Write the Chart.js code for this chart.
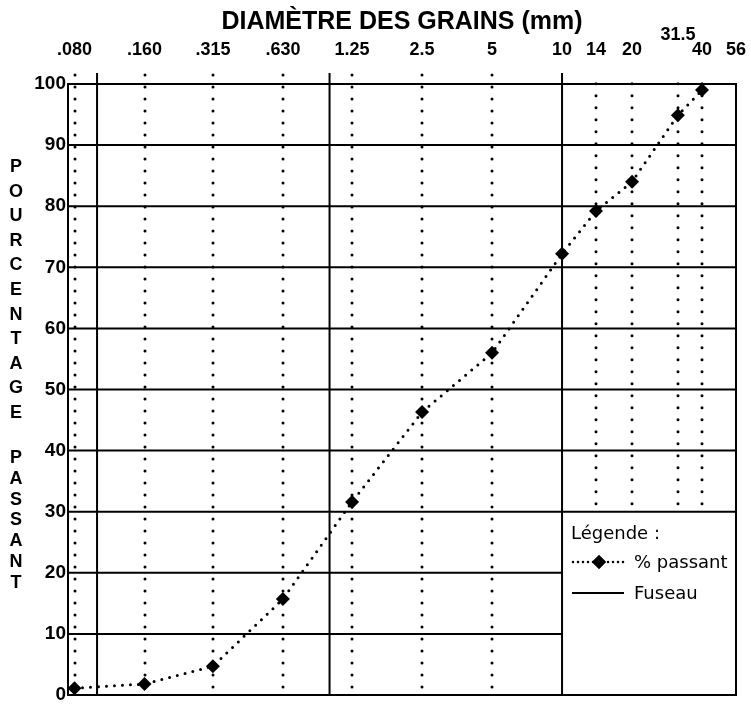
<!DOCTYPE html>
<html>
<head>
<meta charset="utf-8">
<script src="https://cdn.jsdelivr.net/npm/chart.js@4.4.1/dist/chart.umd.min.js"></script>
<style>
  html, body { margin: 0; padding: 0; background: #fff; }
</style>
</head>
<body>
<canvas id="grading" width="751" height="709"></canvas>
<script>
// sieve openings (mm) shown along the top
const sieveSizes = [0.08, 0.16, 0.315, 0.63, 1.25, 2.5, 5, 10, 14, 20, 31.5, 40, 56];
const sieveLabels = ['.080', '.160', '.315', '.630', '1.25', '2.5', '5', '10', '14', '20', '31.5', '40', '56'];

// measured % passing
const passSizes = [0.08, 0.16, 0.315, 0.63, 1.25, 2.5, 5, 10, 14, 20, 31.5, 40];
const percentPassing = [1.1, 1.8, 4.7, 15.7, 31.6, 46.3, 56, 72.2, 79.2, 84, 94.9, 99];

const percentTicks = [0, 10, 20, 30, 40, 50, 60, 70, 80, 90, 100];
const decadeLines = [0.1, 1, 10];
const dottedSizes = sieveSizes.filter(s => s !== 10 && s !== 56);
const sideTitle = ['POURCENTAGE', 'PASSANT'];

const frame = {
  id: 'frame',
  beforeDatasetsDraw(chart) {
    const ctx = chart.ctx;
    const xs = chart.scales.x, ys = chart.scales.y;
    const a = chart.chartArea;
    const yTop = ys.getPixelForValue(100);
    const yBot = ys.getPixelForValue(0);
    const yLegend = ys.getPixelForValue(30);
    ctx.save();
    ctx.strokeStyle = '#000';

    // dotted sieve columns (stop above the legend box right of 10 mm)
    ctx.lineWidth = 3;
    ctx.lineCap = 'round';
    ctx.setLineDash([0, 12]);
    dottedSizes.forEach(s => {
      const x = Math.round(xs.getPixelForValue(s));
      const yStart = s > 10 ? yLegend - 8 : yBot - 8;
      ctx.beginPath();
      ctx.moveTo(x, yStart);
      ctx.lineTo(x, yTop - 12);
      ctx.stroke();
    });
    ctx.setLineDash([]);
    ctx.lineCap = 'butt';

    // horizontal lines
    ctx.lineWidth = 2;
    percentTicks.forEach(v => {
      const y = ys.getPixelForValue(v);
      const xEnd = (v === 10 || v === 20) ? xs.getPixelForValue(10) : a.right;
      ctx.beginPath();
      ctx.moveTo(a.left, y);
      ctx.lineTo(xEnd, y);
      ctx.stroke();
    });

    // decade lines
    decadeLines.forEach(s => {
      const x = xs.getPixelForValue(s);
      ctx.beginPath();
      ctx.moveTo(x, yBot);
      ctx.lineTo(x, yTop - 11);
      ctx.stroke();
    });

    // left / right border
    [a.left, a.right].forEach(x => {
      ctx.beginPath();
      ctx.moveTo(x, yBot + 1);
      ctx.lineTo(x, yTop - 1);
      ctx.stroke();
    });
    ctx.restore();
  },
  afterDraw(chart) {
    const ctx = chart.ctx;
    ctx.save();
    ctx.fillStyle = '#000';
    ctx.strokeStyle = '#000';

    // stacked vertical title
    ctx.font = 'bold 18px "Liberation Sans"';
    ctx.textAlign = 'center';
    ctx.textBaseline = 'middle';
    let y = 167;
    sideTitle[0].split('').forEach(ch => { ctx.fillText(ch, 16, y); y += 24.6; });
    y = 458;
    sideTitle[1].split('').forEach(ch => { ctx.fillText(ch, 16, y); y += 20.8; });

    // legend
    ctx.font = '18px "DejaVu Sans"';
    ctx.textAlign = 'left';
    ctx.fillText('Légende :', 571, 534);
    ctx.lineWidth = 2.5;
    ctx.lineCap = 'round';
    ctx.setLineDash([0, 5]);
    ctx.beginPath();
    ctx.moveTo(573, 562);
    ctx.lineTo(626, 562);
    ctx.stroke();
    ctx.setLineDash([]);
    Chart.helpers.drawPoint(ctx, { pointStyle: 'rectRot', radius: 7, borderWidth: 0 }, 599, 562);
    ctx.fill();
    ctx.fillText('% passant', 634, 563);
    ctx.lineCap = 'butt';
    ctx.lineWidth = 2;
    ctx.beginPath();
    ctx.moveTo(572, 593);
    ctx.lineTo(624, 593);
    ctx.stroke();
    ctx.fillText('Fuseau', 634, 594);
    ctx.restore();
  }
};

new Chart(document.getElementById('grading'), {
  type: 'line',
  data: {
    datasets: [{
      label: '% passant',
      data: passSizes.map((s, i) => ({ x: s, y: percentPassing[i] })),
      borderColor: '#000',
      backgroundColor: '#000',
      borderWidth: 3,
      borderDash: [0, 8],
      borderCapStyle: 'round',
      tension: 0,
      pointStyle: 'rectRot',
      pointRadius: 7,
      pointBorderWidth: 0,
      clip: false
    }]
  },
  options: {
    responsive: false,
    animation: false,
    events: [],
    layout: { padding: { left: 0, right: 15, top: 0, bottom: 14 } },
    plugins: {
      legend: { display: false },
      tooltip: { enabled: false }
    },
    scales: {
      x: {
        type: 'logarithmic',
        position: 'top',
        min: 0.075,
        max: 56,
        bounds: 'data',
        grid: { display: false },
        border: { display: false },
        afterBuildTicks: s => { s.ticks = sieveSizes.map(v => ({ value: v })); },
        afterFit: s => { s.height = 84; s.paddingLeft = 0; s.paddingRight = 0; },
        ticks: {
          autoSkip: false,
          maxRotation: 0,
          minRotation: 0,
          padding: 18,
          color: '#000',
          font: { family: '"Liberation Sans"', size: 18, weight: 'bold', lineHeight: 0.85 },
          callback: (v, i) => sieveLabels[i] === '31.5' ? ['31.5', ''] : sieveLabels[i]
        },
        title: {
          display: true,
          text: 'DIAMÈTRE DES GRAINS (mm)',
          color: '#000',
          font: { family: '"Liberation Sans"', size: 25, weight: 'bold' },
          padding: { top: 7, bottom: 0 }
        }
      },
      y: {
        min: 0,
        max: 100,
        grid: { display: false, drawTicks: false },
        border: { display: false },
        afterBuildTicks: s => { s.ticks = percentTicks.map(v => ({ value: v })); },
        afterFit: s => { s.width = 68; },
        ticks: {
          padding: 2,
          color: '#000',
          font: { family: '"Liberation Sans"', size: 19, weight: 'bold' }
        }
      }
    }
  },
  plugins: [frame]
});
</script>
</body>
</html>
